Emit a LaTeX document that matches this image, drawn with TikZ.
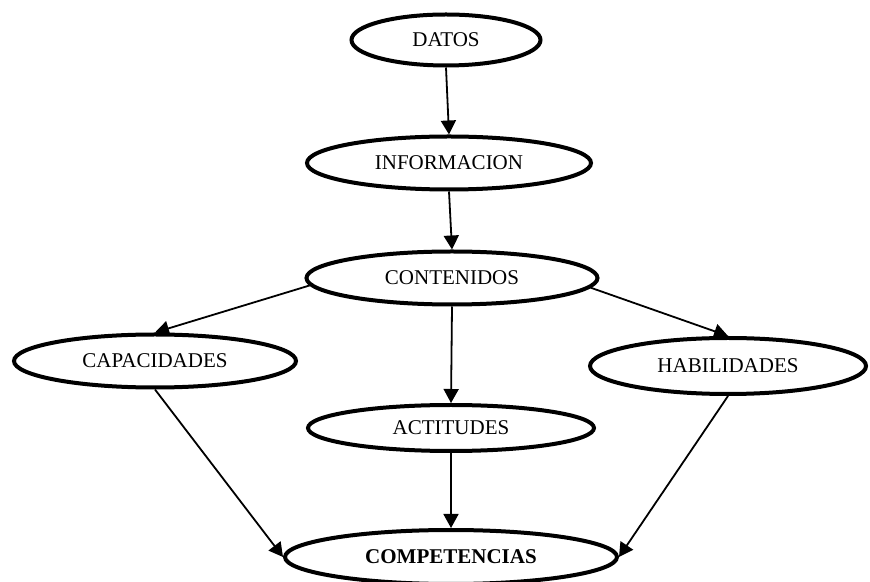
\documentclass[tikz,border=0pt]{standalone}
\usepackage{fontspec}
\setmainfont{Liberation Serif}
\usetikzlibrary{shapes.geometric}
\usetikzlibrary{arrows.meta}
\tikzset{%
  oval/.style = {ellipse,draw,line width=4pt,inner sep=0pt,
        font=\fontsize{21}{25}\selectfont},
  flecha/.style = {-{Triangle[length=14pt,width=15pt]},line width=1.8pt}
}

\begin{document}
\begin{tikzpicture}[x=1pt,y=1pt]
    \useasboundingbox (0,0) rectangle (870,581);
    \node[oval,minimum width=189pt,minimum height=51pt] (datos) at (446,541) {DATOS};
    \node[oval,minimum width=284pt,minimum height=53pt] (info) at (449,418) {INFORMACION};
    \node[oval,minimum width=291pt,minimum height=53pt] (cont) at (452,303) {CONTENIDOS};
    \node[oval,minimum width=282pt,minimum height=53pt] (capac) at (155,220) {CAPACIDADES};
    \node[oval,minimum width=276pt,minimum height=56pt] (habil) at (728,215) {HABILIDADES};
    \node[oval,minimum width=286pt,minimum height=46pt] (acti) at (451,153) {ACTITUDES};
    \node[oval,minimum width=332pt,minimum height=54pt] (comp) at (451,24) {\textbf{COMPETENCIAS}};

    \draw[flecha] (datos.south) -- (info.north);
    \draw[flecha] (info.south) -- (cont.north);
    \draw[flecha] (cont.183) -- (capac.north);
    \draw[flecha] (cont.south) -- (acti.north);
    \draw[flecha] (cont.-4) -- (habil.north);
    \draw[flecha] (capac.south) -- (comp.west);
    \draw[flecha] (acti.south) -- (comp.north);
    \draw[flecha] (habil.south) -- (comp.east);
\end{tikzpicture}
\end{document}
